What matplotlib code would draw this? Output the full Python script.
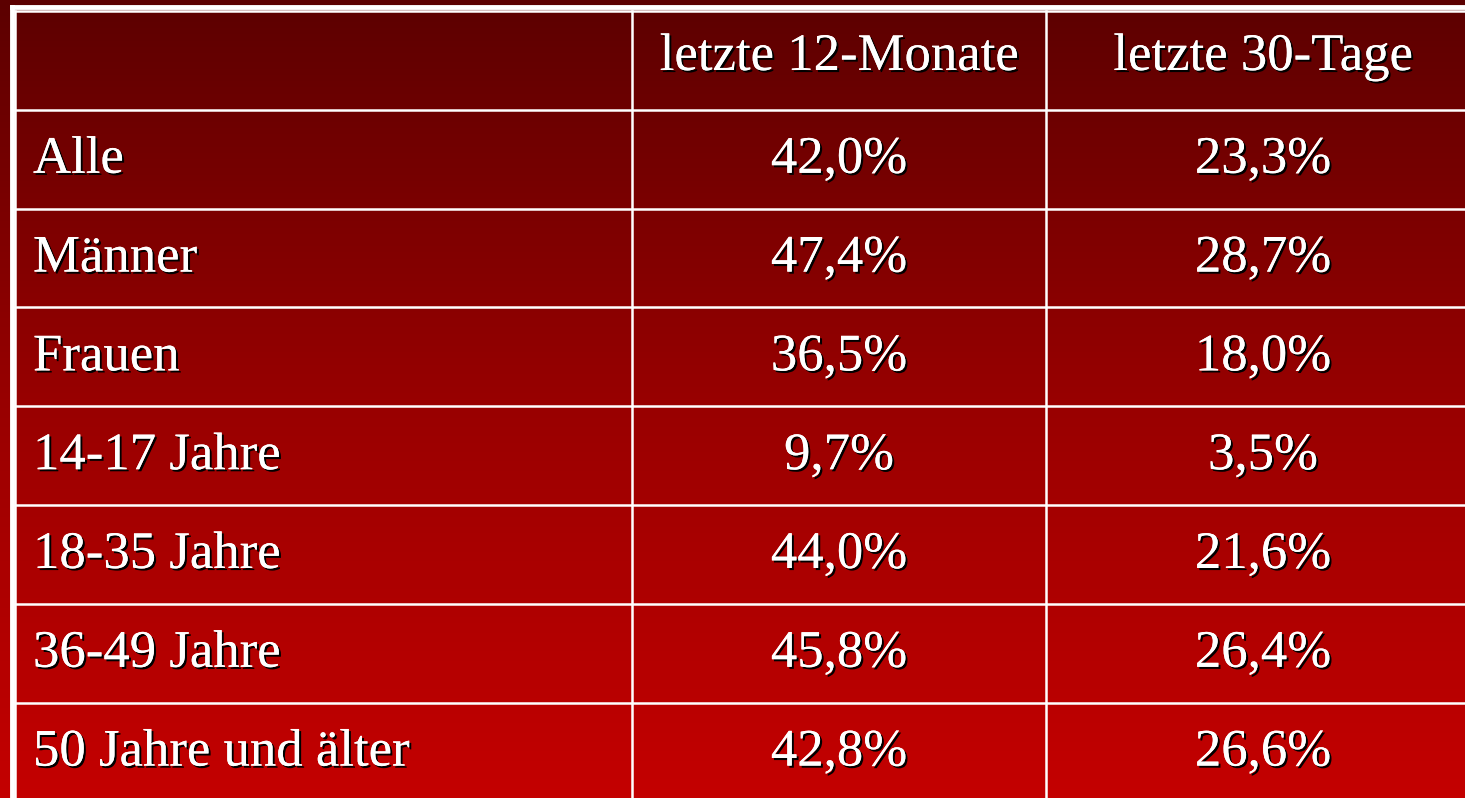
import numpy as np
import matplotlib.pyplot as plt
import matplotlib.patheffects as pe
from matplotlib.colors import LinearSegmentedColormap

# Tabellendaten
header = ['', 'letzte 12-Monate', 'letzte 30-Tage']
groups = ['Alle', 'Männer', 'Frauen', '14-17 Jahre', '18-35 Jahre',
          '36-49 Jahre', '50 Jahre und älter']
months12 = ['42,0%', '47,4%', '36,5%', '9,7%', '44,0%', '45,8%', '42,8%']
days30 = ['23,3%', '28,7%', '18,0%', '3,5%', '21,6%', '26,4%', '26,6%']

W, H = 1465, 798
fig = plt.figure(figsize=(W / 100, H / 100), dpi=100)
ax = fig.add_axes([0, 0, 1, 1])
ax.set_xlim(0, W)
ax.set_ylim(H, 0)
ax.axis('off')

# Hintergrund: vertikaler Verlauf dunkelrot -> rot
cmap = LinearSegmentedColormap.from_list('rot', ['#5c0000', '#980000', '#c40000'])
grad = np.linspace(0, 1, 256).reshape(-1, 1)
ax.imshow(grad, cmap=cmap, extent=[0, W, H, 0], aspect='auto', zorder=0)

# Rasterlinien
col_edges = [15, 632, 1046, 1480]
row_top = 11
row_h = 98.8
row_edges = [row_top + i * row_h for i in range(len(groups) + 2)]

ax.plot([12, 12], [7, H + 5], color='white', lw=3.5, zorder=2)
ax.plot([12, W + 5], [7, 7], color='white', lw=3.5, zorder=2)
for x in col_edges:
    ax.plot([x, x], [row_top, H + 5], color='white', lw=1.8, zorder=2)
for y in row_edges:
    ax.plot([15, W + 5], [y, y], color='white', lw=1.8, zorder=2)

shadow = [pe.withSimplePatchShadow(offset=(1.5, -1.5), shadow_rgbFace='black', alpha=1.0),
          pe.Normal()]
font = dict(family='Liberation Serif', fontsize=38, color='white', zorder=3,
            path_effects=shadow)

c2 = (col_edges[1] + col_edges[2]) / 2
c3 = (col_edges[2] + col_edges[3]) / 2

# Kopfzeile
ax.text(c2, row_edges[0] + 59, header[1], ha='center', va='baseline', **font)
ax.text(c3, row_edges[0] + 59, header[2], ha='center', va='baseline', **font)

# Datenzeilen
for i, (g, a, b) in enumerate(zip(groups, months12, days30)):
    base = row_edges[i + 1] + 63
    ax.text(33, base, g, ha='left', va='baseline', **font)
    ax.text(c2, base, a, ha='center', va='baseline', **font)
    ax.text(c3, base, b, ha='center', va='baseline', **font)

fig.savefig('out.png', dpi=100)
